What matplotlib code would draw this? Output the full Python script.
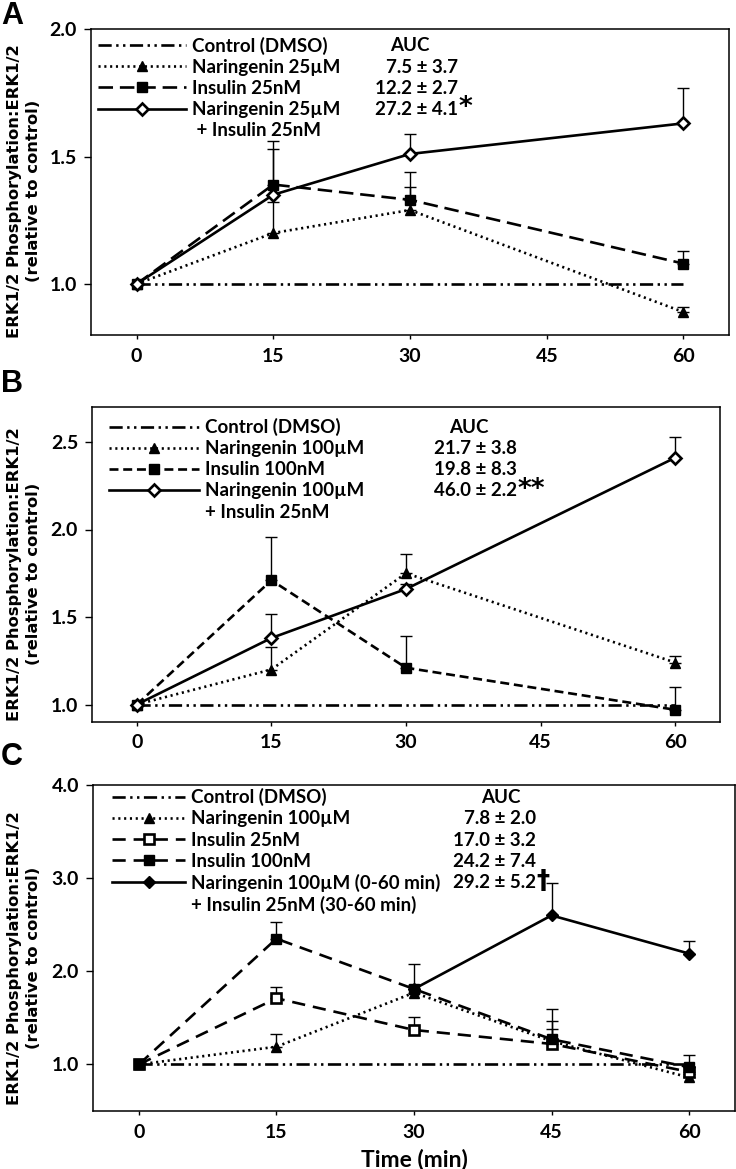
import numpy as np
import matplotlib
matplotlib.use("Agg")
import matplotlib.pyplot as plt
from matplotlib.lines import Line2D

plt.rcParams['font.family'] = ['Lato', 'DejaVu Sans']
plt.rcParams['font.weight'] = 'bold'

# ---- data ----
t4 = [0, 15, 30, 60]
t5 = [0, 15, 30, 45, 60]

# panel A: 25 uM naringenin / 25 nM insulin
a_ctrl = [1.0, 1.0, 1.0, 1.0]
a_nar = [1.0, 1.20, 1.29, 0.89]
a_nar_err = [0, 0.12, 0.09, 0.02]
a_ins = [1.0, 1.39, 1.33, 1.08]
a_ins_err = [0, 0.17, 0.11, 0.05]
a_comb = [1.0, 1.35, 1.51, 1.63]
a_comb_err = [0, 0.18, 0.08, 0.14]
a_labels = ["Control (DMSO)", "Naringenin 25\u00b5M", "Insulin 25nM",
            "Naringenin 25\u00b5M", " + Insulin 25nM"]
a_auc = ["7.5 \u00b1 3.7", "12.2 \u00b1 2.7", "27.2 \u00b1 4.1"]
a_sig = ["", "", "*"]

# panel B: 100 uM naringenin / 100 nM insulin
b_ctrl = [1.0, 1.0, 1.0, 1.0]
b_nar = [1.0, 1.20, 1.75, 1.24]
b_nar_err = [0, 0.13, 0.11, 0.04]
b_ins = [1.0, 1.71, 1.21, 0.97]
b_ins_err = [0, 0.25, 0.18, 0.13]
b_comb = [1.0, 1.38, 1.66, 2.41]
b_comb_err = [0, 0.14, 0.03, 0.12]
b_labels = ["Control (DMSO)", "Naringenin 100\u00b5M", "Insulin 100nM",
            "Naringenin 100\u00b5M", "+ Insulin 25nM"]
b_auc = ["21.7 \u00b1 3.8", "19.8 \u00b1 8.3", "46.0 \u00b1 2.2"]
b_sig = ["", "", "**"]

# panel C: insulin added at 30 min
c_ctrl = [1.0, 1.0, 1.0, 1.0, 1.0]
c_nar = [1.0, 1.19, 1.77, 1.25, 0.86]
c_nar_err = [0, 0.14, 0.08, 0.13, 0.04]
c_ins25 = [1.0, 1.71, 1.37, 1.22, 0.92]
c_ins25_err = [0, 0.12, 0.14, 0.25, 0.05]
c_ins100 = [1.0, 2.35, 1.81, 1.27, 0.97]
c_ins100_err = [0, 0.18, 0.27, 0.32, 0.13]
c_comb_t = [30, 45, 60]
c_comb = [1.81, 2.60, 2.19]
c_comb_err = [0, 0.35, 0.14]
c_labels = ["Control (DMSO)", "Naringenin 100\u00b5M", "Insulin 25nM", "Insulin 100nM",
            "Naringenin 100\u00b5M (0-60 min)", "+ Insulin 25nM (30-60 min)"]
c_auc = ["7.8 \u00b1 2.0", "17.0 \u00b1 3.2", "24.2 \u00b1 7.4", "29.2 \u00b1 5.2"]
c_sig = ["", "", "", "\u2020"]

ctrl_ls = (0, (5, 1.7, 0.9, 1.7, 0.9, 1.7))
dot_ls = (0, (0.8, 1.4))


def series(ax, x, y, err, ls, marker, mfc='k', ms=7.5, z=3):
    x = np.asarray(x, float)
    y = np.asarray(y, float)
    err = np.asarray(err, float)
    m = err > 0
    ax.errorbar(x[m], y[m], yerr=[np.zeros(m.sum()), err[m]], fmt='none',
                ecolor='k', elinewidth=1, capsize=4.5, capthick=1, zorder=z - 1)
    ln, = ax.plot(x, y, color='k', lw=1.9, linestyle=ls, marker=marker, ms=ms,
                  mfc=mfc, mec='k', mew=1.9 if mfc == 'white' else 1, zorder=z)
    return ln


def style(ax, ylim, yticks):
    ax.set_xlim(-5, 65)
    ax.set_ylim(*ylim)
    ax.set_xticks([0, 15, 30, 45, 60])
    ax.set_yticks(yticks)
    ax.set_yticklabels([f"{v:.1f}" for v in yticks])
    ax.tick_params(axis='y', direction='out', length=5, width=1, pad=5, labelsize=14)
    ax.tick_params(axis='x', direction='out', length=3, width=1, pad=6, labelsize=14)
    for s in ax.spines.values():
        s.set_linewidth(1.1)
    ax.set_ylabel("ERK1/2 Phosphorylation:ERK1/2\n(relative to control)",
                  family='DejaVu Sans', fontsize=11.8, weight='bold',
                  va='center', linespacing=1.35)


def add_legend(ax, handles, labels, auc, sig, anchor, hlen, auc_center, val_right):
    leg = ax.legend(handles, labels, loc='upper left', bbox_to_anchor=anchor,
                    frameon=False, borderpad=0, borderaxespad=0, handlelength=hlen,
                    handletextpad=0.3, labelspacing=0.22, numpoints=1,
                    prop={'family': ['Lato', 'DejaVu Sans'], 'weight': 'bold', 'size': 13.5})
    fig.canvas.draw()
    inv = ax.transAxes.inverted()
    ys = []
    for t in leg.get_texts():
        bb = t.get_window_extent()
        ys.append(inv.transform((0, (bb.y0 + bb.y1) / 2))[1])
    ax.text(auc_center, ys[0], "AUC", transform=ax.transAxes, ha='center', va='center',
            fontsize=13.5, weight='bold')
    for i, (s, g) in enumerate(zip(auc, sig)):
        ax.text(val_right, ys[1 + i], s, transform=ax.transAxes,
                ha='right', va='center', fontsize=13.5, weight='bold')
        if g:
            ax.annotate(g, xy=(val_right, ys[1 + i]), xycoords='axes fraction',
                        xytext=(0.5, 1), textcoords='offset points', ha='left',
                        va='center', fontsize=19, weight='bold',
                        family=['DejaVu Sans'])
    return leg


fig = plt.figure(figsize=(7.36, 11.69), dpi=100)
W, H = 736, 1169


def px_axes(l, r, t, b):
    return fig.add_axes([l / W, 1 - b / H, (r - l) / W, (b - t) / H])


blank = Line2D([], [], color='none')

# ---- A ----
axA = px_axes(91, 729, 29, 335)
h0 = axA.plot(t4, a_ctrl, color='k', lw=1.9, linestyle=ctrl_ls, zorder=1)[0]
h1 = series(axA, t4, a_nar, a_nar_err, dot_ls, '^')
h2 = series(axA, t4, a_ins, a_ins_err, (0, (5.5, 2.6)), 's', ms=7)
h3 = series(axA, t4, a_comb, a_comb_err, '-', 'D', mfc='white', ms=6.5)
style(axA, (0.8, 2.0), [1.0, 1.5, 2.0])
axA.yaxis.set_label_coords((24 - 91) / 638, 0.47)
add_legend(axA, [h0, h1, h2, h3, blank], a_labels, a_auc, a_sig, (0.011, 0.975), 4.7, 0.50, 0.575)

# ---- B ----
axB = px_axes(92, 720, 407, 722)
h0 = axB.plot(t4, b_ctrl, color='k', lw=1.9, linestyle=ctrl_ls, zorder=1)[0]
h1 = series(axB, t4, b_nar, b_nar_err, dot_ls, '^')
h2 = series(axB, t4, b_ins, b_ins_err, (0, (3.4, 1.8)), 's', ms=7)
h3 = series(axB, t4, b_comb, b_comb_err, '-', 'D', mfc='white', ms=6.5)
style(axB, (0.9, 2.7), [1.0, 1.5, 2.0, 2.5])
axB.yaxis.set_label_coords((24 - 92) / 628, 0.47)
add_legend(axB, [h0, h1, h2, h3, blank], b_labels, b_auc, b_sig, (0.027, 0.965), 4.8, 0.60, 0.677)

# ---- C ----
axC = px_axes(93, 735, 785, 1111)
h0 = axC.plot(t5, c_ctrl, color='k', lw=1.9, linestyle=ctrl_ls, zorder=1)[0]
h1 = series(axC, t5, c_nar, c_nar_err, dot_ls, '^', ms=6.5)
h2 = series(axC, t5, c_ins25, c_ins25_err, (0, (5, 3)), 's', mfc='white', ms=7)
h3 = series(axC, t5, c_ins100, c_ins100_err, (0, (5, 3)), 's', ms=7)
h4 = series(axC, c_comb_t, c_comb, c_comb_err, '-', 'D', ms=6.5, z=2)
style(axC, (0.5, 4.0), [1.0, 2.0, 3.0, 4.0])
axC.yaxis.set_label_coords((24 - 93) / 642, 0.47)
axC.set_xlabel("Time (min)", fontsize=16.5, weight='bold', labelpad=6)
add_legend(axC, [h0, h1, h2, h3, h4, blank], c_labels, c_auc, c_sig, (0.03, 0.99), 3.9, 0.635, 0.69)

# panel letters
for lab, y in zip("ABC", [1, 369, 742]):
    fig.text(1 / W, 1 - y / H, lab, fontsize=22, weight='bold', va='top', ha='left',
             family=['Liberation Sans', 'DejaVu Sans'])

fig.savefig("out.png", dpi=100)
